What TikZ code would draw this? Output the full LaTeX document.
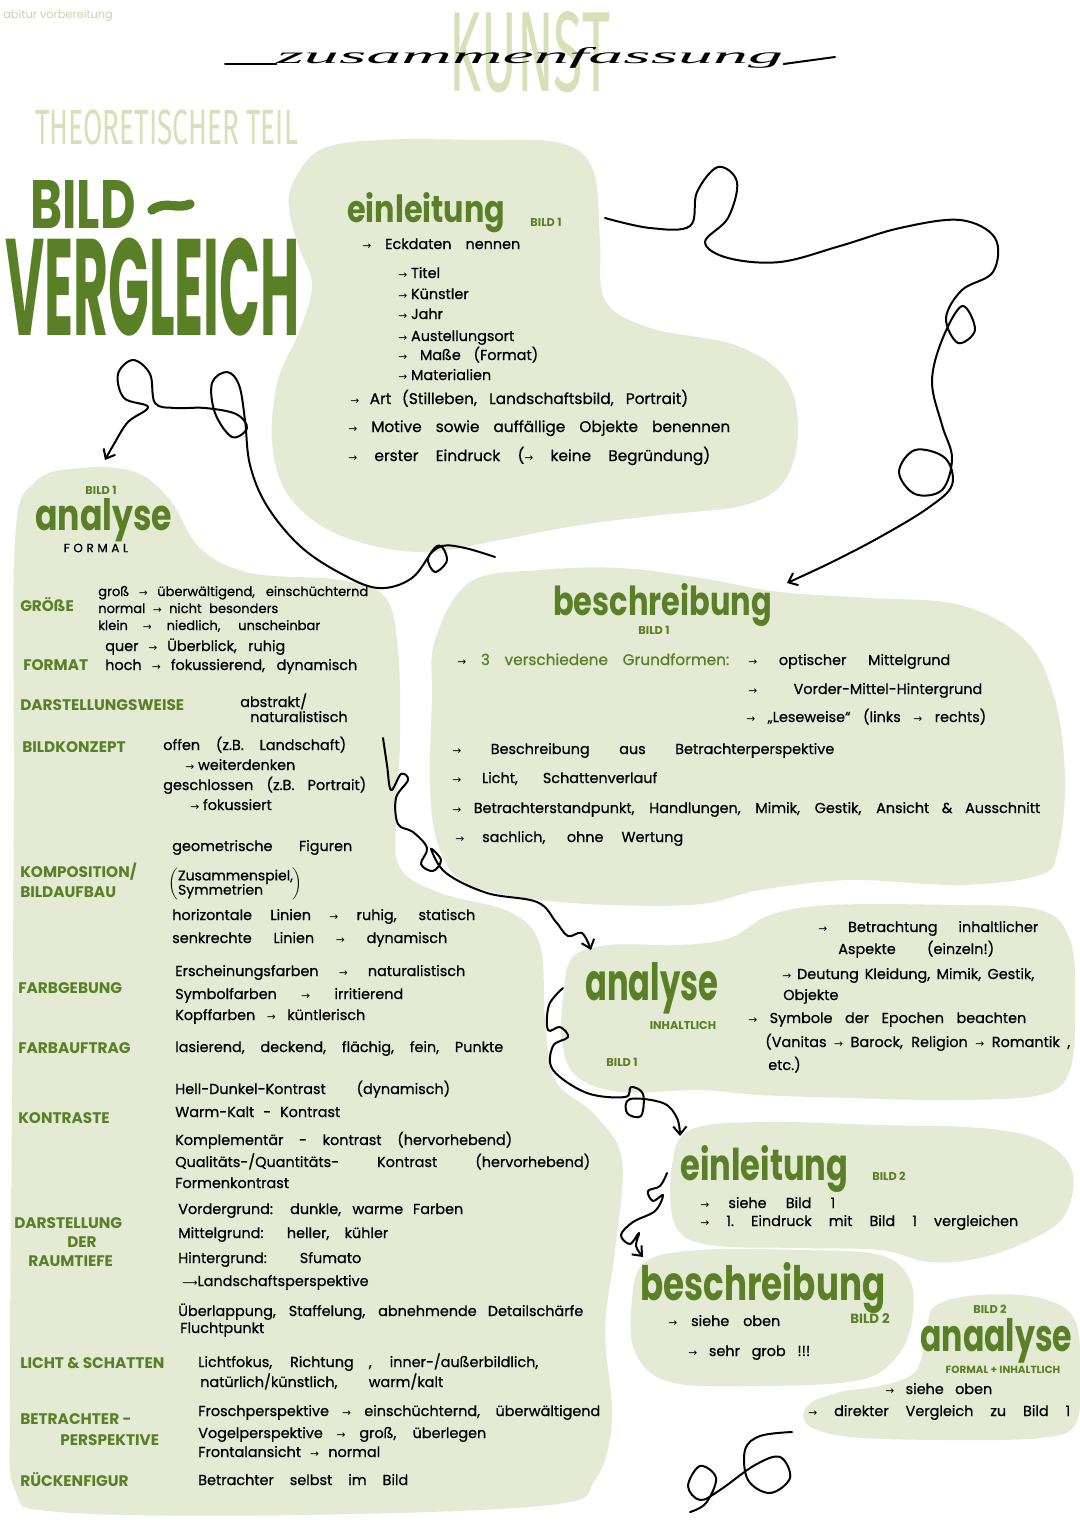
\documentclass[tikz,border=0pt]{standalone}
\usepackage{fontspec}
\setmainfont{Poppins}
\newfontfamily\bodyfont{Poppins}[FakeBold=0.7]
\newfontfamily\arrowfont{DejaVu Sans}
\newfontfamily\condfont{Fira Sans}
\newfontfamily\handfont{Liberation Serif}
\usetikzlibrary{arrows.meta}
\definecolor{dgreen}{HTML}{5A8027}
\definecolor{blobc}{HTML}{E4EAD3}
\definecolor{palegreen}{HTML}{D6E1B8}
\definecolor{lightgreen}{HTML}{C9D6A6}
\newdimen\pxu \pxu=0.75pt
\newcommand\wl[2]{\makebox[#1\pxu][s]{#2}}
\newcommand\hd[3]{\resizebox{#1\pxu}{#2\pxu}{\bfseries #3}}
\newcommand\myarr{{\arrowfont\fontsize{8}{8}\selectfont →}}
\tikzset{
  blob/.style={fill=blobc, draw=none},
  txt/.style={anchor=base west, inner sep=0pt, font=\bodyfont\fontsize{11.5}{13}\selectfont},
  sub/.style={anchor=base west, inner sep=0pt, font=\bodyfont\fontsize{10.8}{12}\selectfont},
  sm/.style={anchor=base west, inner sep=0pt, font=\bodyfont\fontsize{9.8}{11}\selectfont},
  lab/.style={anchor=base west, inner sep=0pt, text=dgreen, font=\bfseries\fontsize{11.5}{13}\selectfont},
  tag/.style={inner sep=0pt, text=dgreen, font=\bfseries\fontsize{8.5}{10}\selectfont},
  head/.style={anchor=base west, inner sep=0pt, text=dgreen},
  conn/.style={draw=black, line width=1.5pt, line cap=round, line join=round},
  tip/.style={-{Straight Barb[length=6pt,width=10pt]}}
}
\begin{document}
\begin{tikzpicture}[x=0.75pt,y=-0.75pt]
\useasboundingbox (0,0) rectangle (1080,1527);
\fill[white] (0,0) rectangle (1080,1527);

% ---------- blobs ----------
\path[blob] plot[smooth cycle,tension=0.6] coordinates {(292,185) (320,150) (380,140) (480,140) (560,143) (593,170) (600,240) (605,300) (650,328) (735,345) (785,378) (798,430) (785,480) (745,505) (660,515) (580,525) (500,540) (430,552) (370,545) (320,525) (285,490) (272,440) (278,380) (300,330) (312,285) (300,250) (290,215)};
\path[blob] plot[smooth cycle,tension=0.6] coordinates {(15,540) (35,482) (80,468) (135,472) (170,500) (200,548) (250,573) (340,580) (385,597) (398,650) (400,740) (396,820) (400,868) (440,893) (510,912) (540,945) (545,1020) (555,1080) (595,1115) (622,1160) (615,1250) (605,1330) (612,1420) (595,1480) (550,1505) (300,1515) (60,1512) (15,1490) (10,1400) (12,1100) (14,800)};
\path[blob] plot[smooth cycle,tension=0.6] coordinates {(435,640) (470,582) (540,570) (620,568) (700,578) (780,592) (870,598) (960,605) (1025,640) (1055,700) (1065,780) (1058,850) (1040,875) (960,885) (850,880) (760,890) (690,905) (560,902) (470,885) (440,850) (430,790) (432,700)};
\path[blob] plot[smooth cycle,tension=0.6] coordinates {(563,1000) (572,958) (610,945) (680,945) (730,938) (770,915) (830,905) (950,905) (1040,910) (1070,940) (1075,1000) (1070,1070) (1040,1095) (950,1100) (850,1098) (760,1095) (700,1090) (620,1092) (575,1075) (562,1040)};
\path[blob] plot[smooth cycle,tension=0.6] coordinates {(672,1165) (690,1130) (760,1122) (880,1125) (980,1128) (1040,1140) (1072,1170) (1065,1215) (1030,1240) (980,1258) (930,1262) (880,1250) (800,1248) (710,1245) (675,1225)};
\path[blob] plot[smooth cycle,tension=0.6] coordinates {(632,1300) (645,1262) (700,1250) (800,1250) (880,1255) (910,1280) (912,1320) (898,1355) (860,1380) (760,1386) (670,1382) (635,1352)};
\path[blob] plot[smooth cycle,tension=0.6] coordinates {(926,1335) (935,1306) (980,1295) (1040,1298) (1075,1320) (1080,1380) (1075,1425) (1040,1438) (950,1440) (850,1437) (808,1425) (808,1405) (840,1392) (880,1386) (915,1372)};

% ---------- title area ----------
\node[anchor=base west, inner sep=0pt, text=lightgreen, font=\fontsize{8.5}{10}\selectfont] (abi) at (3,19) {abitur vorbereitung};
\node[inner sep=0pt, text=palegreen] (kunst) at (530,52) {\resizebox{120pt}{60pt}{\condfont KUNST}};
\node[inner sep=0pt, anchor=base] (zf) at (530,64) {\resizebox{380pt}{12pt}{\handfont\itshape zusammenfassung}};
\draw[line width=1.5pt, line cap=round] (225,64) -- (zf.base west);
\draw[line width=1.5pt, line cap=round] (zf.base east) -- (835,57);
\node[inner sep=0pt, anchor=north west, text=palegreen] (theo) at (35,110) {\resizebox{197pt}{26pt}{\condfont THEORETISCHER TEIL}};
\node[inner sep=0pt, anchor=north west, text=dgreen] (bild) at (30,180) {\resizebox{79pt}{36pt}{\bfseries BILD}};
\node[inner sep=0pt, anchor=north west, text=dgreen] (vgl) at (5,238) {\resizebox{221pt}{73pt}{\bfseries VERGLEICH}};
\draw[dgreen, line width=7pt, line cap=round] (152,210) .. controls (165,200) and (178,210) .. (190,204);

% ---------- einleitung BILD 1 ----------
\node[head] (h1) at (347,222) {\hd{158}{30}{einleitung}};
\node[tag] (h1b) at (546,222) {BILD 1};
\node[sub] (e1) at (362,249) {\wl{158}{\myarr\ Eckdaten nennen}};
\node[sub] (e2) at (398,278) {\myarr\ Titel};
\node[sub] (e3) at (398,299) {\myarr\ Künstler};
\node[sub] (e4) at (398,319) {\myarr\ Jahr};
\node[sub] (e5) at (398,341) {\myarr\ Austellungsort};
\node[sub] (e6) at (398,360) {\wl{140}{\myarr\ Maße (Format)}};
\node[sub] (e7) at (398,380) {\myarr\ Materialien};
\node[txt] (e8) at (350,404) {\wl{338}{\myarr\ Art (Stilleben, Landschaftsbild, Portrait)}};
\node[txt] (e9) at (348,432) {\wl{382}{\myarr\ Motive sowie auffällige Objekte benennen}};
\node[txt] (e10) at (348,461) {\wl{362}{\myarr\ erster Eindruck (\myarr\ keine Begründung)}};

% ---------- analyse formal ----------
\node[tag] (a1b) at (101,490) {BILD 1};
\node[head] (a1) at (35,530) {\hd{137}{32}{analyse}};
\node[inner sep=0pt, font=\bodyfont\fontsize{9}{10}\selectfont\addfontfeature{LetterSpace=30}] (a1f) at (96,548) {FORMAL};
\node[lab] (l1) at (20,611) {GRÖßE};
\node[sm] (g1) at (98,596) {\wl{270}{groß \myarr\ überwältigend, einschüchternd}};
\node[sm] (g2) at (98,613) {\wl{180}{normal \myarr\ nicht besonders}};
\node[sm] (g3) at (98,630) {\wl{222}{klein \myarr\ niedlich, unscheinbar}};
\node[sub] (f1) at (105,651) {\wl{180}{quer \myarr\ Überblick, ruhig}};
\node[lab] (l2) at (23,670) {FORMAT};
\node[sub] (f2) at (105,670) {\wl{252}{hoch \myarr\ fokussierend, dynamisch}};
\node[lab] (l3) at (20,710) {DARSTELLUNGSWEISE};
\node[sub] (d1) at (240,707) {abstrakt/};
\node[sub] (d2) at (250,722) {naturalistisch};
\node[lab] (l4) at (22,752) {BILDKONZEPT};
\node[sub] (b1) at (163,750) {\wl{183}{offen (z.B. Landschaft)}};
\node[sub] (b2) at (185,770) {\myarr\ weiterdenken};
\node[sub] (b3) at (163,790) {\wl{203}{geschlossen (z.B. Portrait)}};
\node[sub] (b4) at (190,810) {\myarr\ fokussiert};
\node[sub] (k1) at (172,851) {\wl{180}{geometrische Figuren}};
\node[lab] (l5) at (20,877) {KOMPOSITION/};
\node[lab] (l5b) at (20,897) {BILDAUFBAU};
\node[anchor=west, inner sep=0pt, font=\bodyfont\fontsize{10.5}{11}\selectfont] (k2) at (168,884) {$\left(\renewcommand\arraystretch{0.8}\begin{tabular}{@{}l@{}}Zusammenspiel,\\Symmetrien\end{tabular}\right)$};
\node[sub] (k3) at (172,920) {\wl{303}{horizontale Linien \myarr\ ruhig, statisch}};
\node[sub] (k4) at (172,943) {\wl{275}{senkrechte Linien \myarr\ dynamisch}};
\node[lab] (l6) at (18,993) {FARBGEBUNG};
\node[sub] (c1) at (175,976) {\wl{290}{Erscheinungsfarben \myarr\ naturalistisch}};
\node[sub] (c2) at (175,999) {\wl{228}{Symbolfarben \myarr\ irritierend}};
\node[sub] (c3) at (175,1020) {\wl{190}{Kopffarben \myarr\ küntlerisch}};
\node[lab] (l7) at (18,1053) {FARBAUFTRAG};
\node[sub] (fa) at (175,1052) {\wl{328}{lasierend, deckend, flächig, fein, Punkte}};
\node[sub] (kt1) at (175,1094) {\wl{275}{Hell-Dunkel-Kontrast (dynamisch)}};
\node[lab] (l8) at (18,1123) {KONTRASTE};
\node[sub] (kt2) at (175,1117) {\wl{165}{Warm-Kalt - Kontrast}};
\node[sub] (kt3) at (175,1145) {\wl{337}{Komplementär - kontrast (hervorhebend)}};
\node[sub] (kt4) at (175,1167) {\wl{415}{Qualitäts-/Quantitäts- Kontrast (hervorhebend)}};
\node[sub] (kt5) at (175,1188) {Formenkontrast};
\node[lab] (l9) at (14,1228) {DARSTELLUNG};
\node[lab, anchor=base] (l9b) at (82,1247) {DER};
\node[lab] (l9c) at (28,1266) {RAUMTIEFE};
\node[sub] (r1) at (178,1214) {\wl{285}{Vordergrund: dunkle, warme Farben}};
\node[sub] (r2) at (178,1238) {\wl{210}{Mittelgrund: heller, kühler}};
\node[sub] (r3) at (178,1263) {\wl{183}{Hintergrund: Sfumato}};
\node[sub] (r4) at (182,1286) {{\arrowfont\fontsize{8}{8}\selectfont ⟶}Landschaftsperspektive};
\node[sub] (r5) at (178,1316) {\wl{405}{Überlappung, Staffelung, abnehmende Detailschärfe}};
\node[sub] (r6) at (180,1333) {Fluchtpunkt};
\node[lab] (l10) at (20,1368) {LICHT \& SCHATTEN};
\node[sub] (li1) at (198,1367) {\wl{340}{Lichtfokus, Richtung , inner-/außerbildlich,}};
\node[sub] (li2) at (200,1387) {\wl{243}{natürlich/künstlich, warm/kalt}};
\node[lab] (l11) at (20,1424) {BETRACHTER -};
\node[lab] (l11b) at (60,1445) {PERSPEKTIVE};
\node[sub] (p1) at (198,1416) {\wl{402}{Froschperspektive \myarr\ einschüchternd, überwältigend}};
\node[sub] (p2) at (198,1438) {\wl{288}{Vogelperspektive \myarr\ groß, überlegen}};
\node[sub] (p3) at (198,1457) {\wl{182}{Frontalansicht \myarr\ normal}};
\node[lab] (l12) at (20,1486) {RÜCKENFIGUR};
\node[sub] (rf) at (198,1485) {\wl{210}{Betrachter selbst im Bild}};

% ---------- beschreibung BILD 1 ----------
\node[head] (h3) at (553,615) {\hd{219}{32}{beschreibung}};
\node[tag] (h3b) at (654,630) {BILD 1};
\node[txt] (s1) at (457,665) {\wl{272}{\myarr\ \textcolor{dgreen}{3 verschiedene Grundformen:}}};
\node[sub] (s2) at (748,665) {\wl{202}{\myarr\ optischer Mittelgrund}};
\node[sub] (s3) at (748,694) {\wl{234}{\myarr\ Vorder-Mittel-Hintergrund}};
\node[sub] (s4) at (746,722) {\wl{240}{\myarr\ „Leseweise“ (links \myarr\ rechts)}};
\node[sub] (s5) at (452,754) {\wl{382}{\myarr\ Beschreibung aus Betrachterperspektive}};
\node[sub] (s6) at (452,783) {\wl{205}{\myarr\ Licht, Schattenverlauf}};
\node[sub] (s7) at (452,813) {\wl{588}{\myarr\ Betrachterstandpunkt, Handlungen, Mimik, Gestik, Ansicht \& Ausschnitt}};
\node[sub] (s8) at (455,842) {\wl{228}{\myarr\ sachlich, ohne Wertung}};

% ---------- analyse inhaltlich ----------
\node[head] (h4) at (585,1000) {\hd{133}{38}{analyse}};
\node[tag] (h4b) at (683,1025) {INHALTLICH};
\node[tag] (h4c) at (622,1062) {BILD 1};
\node[sub] (i1) at (818,932) {\wl{220}{\myarr\ Betrachtung inhaltlicher}};
\node[sub] (i2) at (838,954) {\wl{156}{Aspekte (einzeln!)}};
\node[sub] (i3) at (782,979) {\wl{252}{\myarr\ Deutung Kleidung, Mimik, Gestik,}};
\node[sub] (i4) at (783,1000) {Objekte};
\node[sub] (i5) at (748,1023) {\wl{278}{\myarr\ Symbole der Epochen beachten}};
\node[sub] (i6) at (765,1047) {\wl{305}{(Vanitas \myarr\ Barock, Religion \myarr\ Romantik ,}};
\node[sub] (i7) at (768,1070) {etc.)};

% ---------- einleitung BILD 2 ----------
\node[head] (h5) at (680,1180) {\hd{168}{35}{einleitung}};
\node[tag] (h5b) at (889,1176) {BILD 2};
\node[sub] (j1) at (700,1208) {\wl{135}{\myarr\ siehe Bild 1}};
\node[sub] (j2) at (700,1226) {\wl{318}{\myarr\ 1.~Eindruck mit Bild 1 vergleichen}};

% ---------- beschreibung BILD 2 ----------
\node[head] (h6) at (640,1300) {\hd{245}{38}{beschreibung}};
\node[tag, font=\bfseries\fontsize{10}{11}\selectfont] (h6b) at (870,1319) {BILD 2};
\node[sub] (m1) at (668,1326) {\wl{112}{\myarr\ siehe oben}};
\node[sub] (m2) at (688,1356) {\wl{122}{\myarr\ sehr grob !!!}};

% ---------- anaalyse BILD 2 ----------
\node[tag] (h7b) at (990,1309) {BILD 2};
\node[head] (h7) at (920,1351) {\hd{152}{33}{anaalyse}};
\node[tag, font=\bfseries\fontsize{7.8}{9}\selectfont] (h7c) at (1003,1370) {FORMAL + INHALTLICH};
\node[sub] (n1) at (885,1394) {\wl{107}{\myarr\ siehe oben}};
\node[sub] (n2) at (808,1416) {\wl{262}{\myarr\ direkter Vergleich zu Bild 1}};

% ---------- connectors ----------
\coordinate (c1s) at (605,218); \coordinate (c1e) at (787,583);
\draw[conn,tip] plot[smooth,tension=0.6] coordinates {(c1s) (650,228) (690,226) (697,192) (718,167) (737,182) (728,218) (705,242) (728,258) (780,262) (840,246) (900,228) (960,220) (995,238) (993,272) (962,290) (946,318) (958,343) (975,330) (962,306) (942,340) (932,382) (942,425) (952,458) (942,490) (915,494) (899,472) (915,450) (945,458) (952,485) (928,508) (880,537) (830,563) (c1e)};

\coordinate (c2s) at (495,557); \coordinate (c2e) at (105,460);
\draw[conn,tip] plot[smooth,tension=0.6] coordinates {(c2s) (465,548) (442,546) (428,558) (435,572) (447,560) (437,546) (412,578) (378,588) (340,573) (300,546) (267,506) (250,465) (245,420) (239,385) (227,372) (212,383) (215,413) (232,437) (247,428) (236,414) (205,408) (175,408) (155,403) (150,374) (133,360) (118,374) (124,398) (148,407) (128,422) (114,444) (c2e)};

\coordinate (c3s) at (383,738); \coordinate (c3e) at (591,950);
\draw[conn,tip] plot[smooth,tension=0.6] coordinates {(c3s) (387,765) (391,790) (401,774) (408,780) (396,798) (398,824) (413,832) (427,848) (421,864) (433,871) (441,860) (431,849) (446,873) (487,893) (537,902) (556,922) (568,936) (582,933) (c3e)};

\coordinate (c4s) at (563,988); \coordinate (c4e) at (680,1136);
\draw[conn,tip] plot[smooth,tension=0.6] coordinates {(c4s) (549,1005) (548,1030) (560,1027) (568,1037) (553,1046) (553,1070) (587,1093) (625,1097) (631,1087) (643,1094) (641,1116) (627,1113) (630,1099) (663,1103) (677,1118) (c4e)};

\coordinate (c5s) at (667,1173); \coordinate (c5e) at (643,1257);
\draw[conn,tip] plot[smooth,tension=0.6] coordinates {(c5s) (660,1186) (648,1191) (653,1201) (663,1195) (655,1211) (633,1222) (621,1235) (630,1244) (639,1233) (636,1246) (c5e)};

\coordinate (c6s) at (792,1432); \coordinate (c6e) at (690,1512);
\draw[conn] plot[smooth,tension=0.6] coordinates {(c6s) (760,1436) (745,1450) (748,1480) (770,1493) (790,1478) (780,1457) (755,1465) (720,1490) (700,1500) (688,1486) (700,1466) (716,1478) (706,1503) (c6e)};
\end{tikzpicture}
\end{document}
